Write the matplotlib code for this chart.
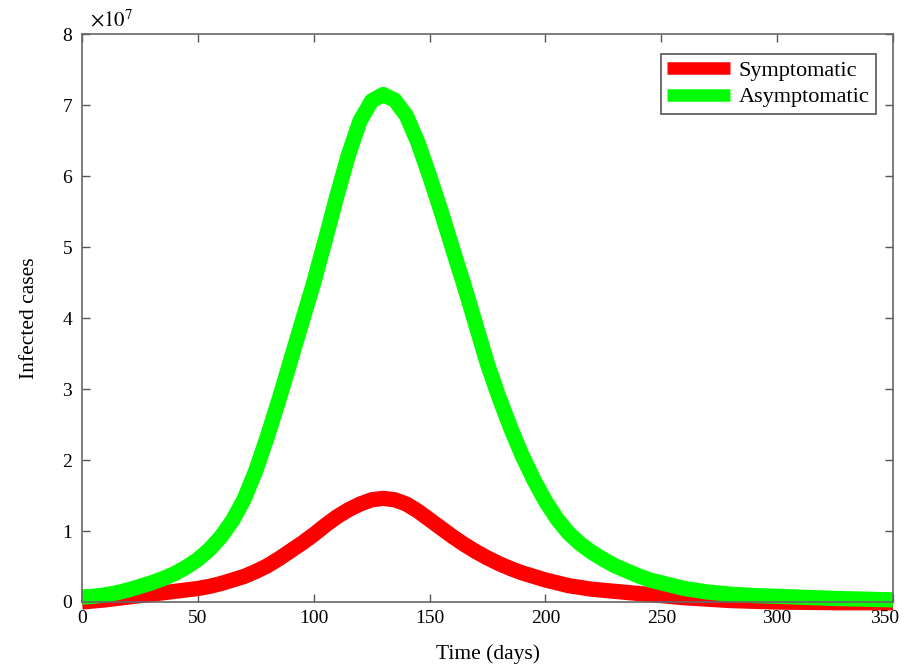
import matplotlib
matplotlib.use('Agg')
import matplotlib.pyplot as plt
import matplotlib.transforms as mtransforms

plt.rcParams['font.family'] = ['Liberation Serif', 'DejaVu Serif']
plt.rcParams['mathtext.fontset'] = 'stix'

# days and infected cases (units of 1e7)
days_asym = [0, 5, 10, 15, 20, 25, 30, 35, 40, 45, 50, 55, 60, 65, 70, 75, 80, 85,
             90, 95, 100, 105, 110, 115, 120, 125, 130, 135, 140, 145, 150, 155,
             160, 165, 170, 175, 180, 185, 190, 195, 200, 205, 210, 215, 220, 225,
             230, 235, 240, 245, 250, 260, 270, 280, 290, 300, 325, 350]
asymptomatic = [0.07, 0.08, 0.1, 0.13, 0.17, 0.22, 0.27, 0.33, 0.4, 0.49, 0.6,
                0.74, 0.92, 1.15, 1.45, 1.85, 2.33, 2.85, 3.4, 3.95, 4.5, 5.1,
                5.72, 6.3, 6.78, 7.06, 7.15, 7.07, 6.85, 6.47, 6.0, 5.5, 4.97, 4.45,
                3.9, 3.35, 2.88, 2.45, 2.06, 1.72, 1.42, 1.17, 0.97, 0.82, 0.7,
                0.6, 0.51, 0.44, 0.37, 0.31, 0.27, 0.19, 0.14, 0.11, 0.09, 0.08,
                0.05, 0.03]

days_sym = [0, 10, 20, 30, 40, 50, 55, 60, 65, 70, 75, 80, 85, 90, 95, 100, 105,
            110, 115, 120, 125, 130, 135, 140, 145, 150, 155, 160, 165, 170, 175,
            180, 185, 190, 195, 200, 210, 220, 230, 240, 250, 260, 270, 280, 290,
            300, 325, 350]
symptomatic = [0.0, 0.03, 0.07, 0.11, 0.15, 0.19, 0.22, 0.26, 0.31, 0.36, 0.43,
               0.51, 0.61, 0.72, 0.83, 0.95, 1.08, 1.2, 1.3, 1.38, 1.44, 1.46,
               1.44, 1.38, 1.28, 1.16, 1.04, 0.92, 0.81, 0.71, 0.62, 0.54, 0.47,
               0.41, 0.36, 0.31, 0.23, 0.18, 0.15, 0.12, 0.09, 0.06, 0.04, 0.02,
               0.01, 0.0, -0.01, -0.01]

xticks = [0, 50, 100, 150, 200, 250, 300, 350]
yticks = [0, 1, 2, 3, 4, 5, 6, 7, 8]

fig = plt.figure(figsize=(9.06, 6.70), dpi=100)
ax = fig.add_axes([0.0905, 0.1015, 0.8952, 0.8475])

ax.plot(days_sym, symptomatic, color='#ff0000', lw=11, label='Symptomatic',
        clip_on=False, solid_capstyle='butt', solid_joinstyle='round')
ax.plot(days_asym, asymptomatic, color='#00ff00', lw=11, label='Asymptomatic',
        clip_on=False, solid_capstyle='butt', solid_joinstyle='round')

ax.set_xlim(0, 350)
ax.set_ylim(0, 8)
ax.set_xticks(xticks)
ax.set_yticks(yticks)
ax.tick_params(direction='in', length=6, width=1, colors='#555555',
               labelcolor='black', labelsize=14, top=True, right=True)
ax.tick_params(axis='x', pad=6)
ax.tick_params(axis='y', pad=7)
for s in ax.spines.values():
    s.set_color('#666666')
    s.set_linewidth(1.2)

# last x label sits a little left, as in the original
last = ax.get_xticklabels()[-1]
last.set_transform(last.get_transform() +
                   mtransforms.ScaledTranslation(-6 / 72, 0, fig.dpi_scale_trans))

ax.set_xlabel('Time (days)', fontsize=15.5, labelpad=12)
ax.set_ylabel('Infected cases', fontsize=15.5, labelpad=17)
ax.text(0.01, 1.006, r'$\times10^{7}$', transform=ax.transAxes, fontsize=15,
        ha='left', va='bottom')

leg = ax.legend(loc='upper right', bbox_to_anchor=(0.979, 0.965), borderaxespad=0,
                fontsize=16, handlelength=2.8, fancybox=False, framealpha=1,
                borderpad=0.3, labelspacing=0.25, handletextpad=0.4)
leg.get_frame().set_edgecolor('#555555')
leg.get_frame().set_linewidth(1.2)
for h in leg.get_lines():
    h.set_linewidth(9)

fig.savefig('out.png', dpi=100)
